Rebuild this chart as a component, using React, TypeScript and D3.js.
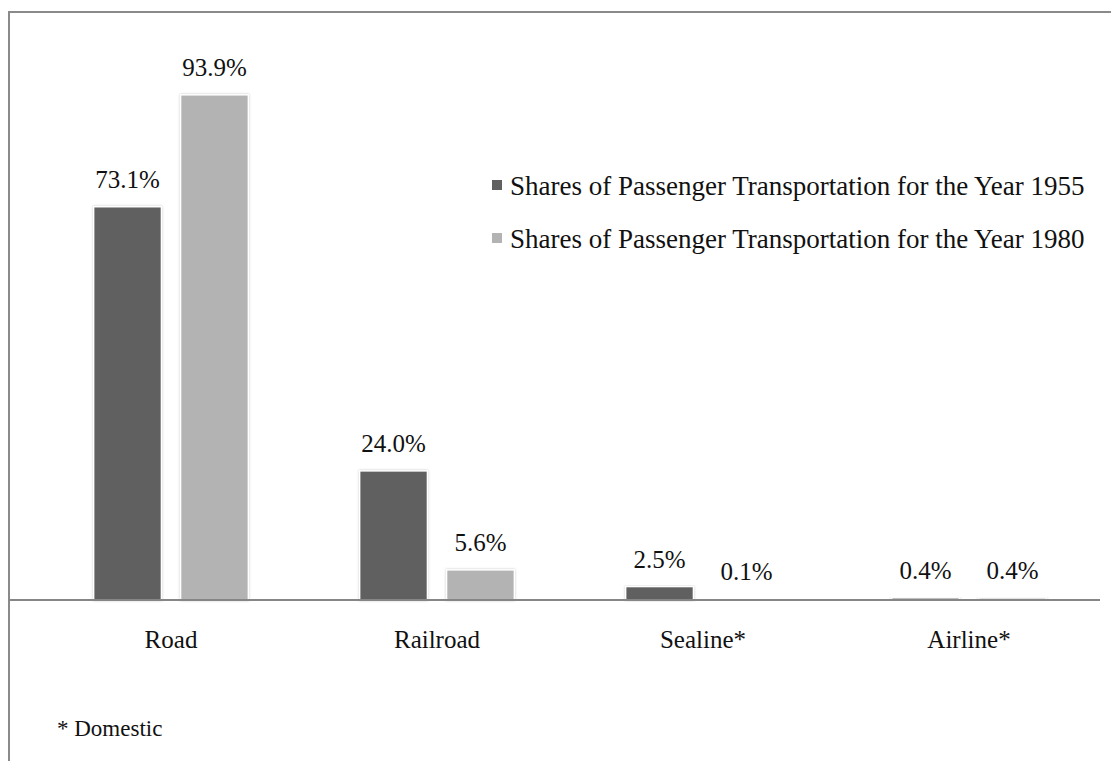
import React from "react";
import * as d3 from "d3";

const width = 1111;
const height = 761;

const categories = ["Road", "Railroad", "Sealine*", "Airline*"];
const seriesNames = [
  "Shares of Passenger Transportation for the Year 1955",
  "Shares of Passenger Transportation for the Year 1980",
];
const values1955 = [73.1, 24.0, 2.5, 0.4];
const values1980 = [93.9, 5.6, 0.1, 0.4];
const colors = ["#606060", "#b3b3b3"];
const footnote = "* Domestic";

const baseY = 600;
const font = "Liberation Serif, Times New Roman, Times, serif";

export default function App() {
  const x0 = d3.scaleBand().domain(categories).range([38, 1102]);
  const x1 = d3
    .scaleBand()
    .domain(seriesNames)
    .range([0, x0.bandwidth()])
    .paddingInner(0.22)
    .paddingOuter(0.64);
  const y = d3.scaleLinear().domain([0, 100]).range([baseY, baseY - 538]);

  const series = [values1955, values1980];
  const txt = { fontFamily: font, fill: "#111" };

  return (
    <svg width={width} height={height} style={{ position: "absolute", left: 0, top: 0 }}>
      <defs>
        <filter id="glow" x="-10%" y="-10%" width="120%" height="120%">
          <feDropShadow dx="0" dy="0" stdDeviation="1.2" floodColor="#999" floodOpacity="0.6" />
        </filter>
      </defs>
      <rect width={width} height={height} fill="#fff" />
      {/* outer frame, only left and top edges are visible */}
      <rect x={9} y={12} width={1200} height={900} fill="none" stroke="#8a8a8a" strokeWidth={2} />

      {categories.map((c, i) => (
        <g key={c} transform={`translate(${x0(c)},0)`}>
          {series.map((vals, s) => {
            const bx = x1(seriesNames[s])!;
            const top = y(vals[i]);
            return (
              <g key={s}>
                <rect
                  x={bx}
                  y={top}
                  width={x1.bandwidth()}
                  height={baseY - top}
                  fill={colors[s]}
                  stroke="#fff"
                  strokeWidth={1.5}
                  filter="url(#glow)"
                />
                <text
                  x={bx + x1.bandwidth() / 2}
                  y={top - 19}
                  textAnchor="middle"
                  fontSize={25}
                  style={txt}
                >
                  {vals[i].toFixed(1)}%
                </text>
              </g>
            );
          })}
          <text x={x0.bandwidth() / 2} y={648} textAnchor="middle" fontSize={25} style={txt}>
            {c}
          </text>
        </g>
      ))}

      <line x1={10} x2={1100} y1={baseY} y2={baseY} stroke="#868686" strokeWidth={2} />

      {seriesNames.map((n, s) => (
        <g key={n} transform={`translate(492,${185 + s * 53})`}>
          <rect x={0} y={-5} width={10} height={10} fill={colors[s]} />
          <text x={18} y={10} fontSize={27} style={txt}>
            {n}
          </text>
        </g>
      ))}

      <text x={57} y={736} fontSize={23} style={txt}>
        {footnote}
      </text>
    </svg>
  );
}
